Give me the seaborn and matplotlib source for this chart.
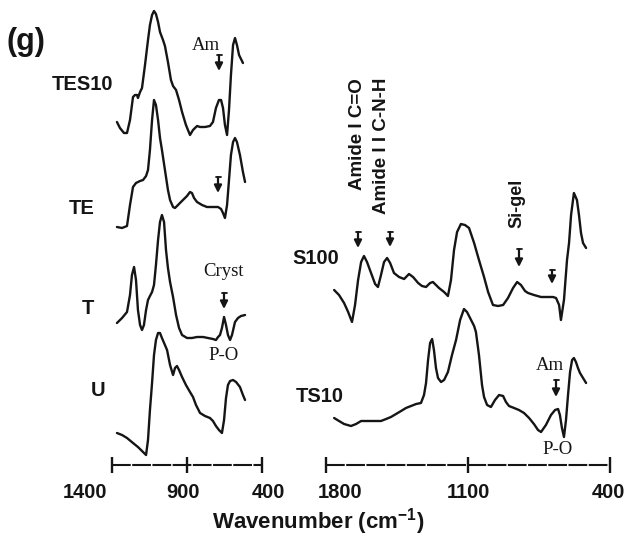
import matplotlib
matplotlib.use("Agg")
import matplotlib.pyplot as plt
from matplotlib.lines import Line2D
import numpy as np
import pandas as pd
import seaborn as sns

# ---------------- data (wavenumber in cm-1, intensity in arbitrary units) ----------------
tes10_wn = [1367, 1347, 1320, 1300, 1280, 1260, 1247, 1233, 1227, 1213, 1200, 1180, 1160, 1147,
            1133, 1120, 1107, 1093, 1080, 1060, 1047, 1027, 1007, 993, 973, 953, 933, 907, 880,
            860, 833, 813, 780, 747, 727, 707, 687, 673, 660, 647, 633, 620, 607, 593, 580, 567,
            553, 527]
tes10_ab = [13, 7, 2, 2, 15, 38, 40, 40, 37, 43, 47, 70, 95, 110, 120, 124, 121, 113, 103, 95,
            89, 73, 55, 49, 45, 35, 23, 10, 0, 5, 9, 8, 8, 9, 13, 27, 35, 35, 27, 10, 0, 25, 60,
            90, 97, 90, 80, 72]

te_wn = [1367, 1333, 1300, 1280, 1260, 1240, 1213, 1193, 1173, 1160, 1147, 1133, 1120, 1107,
         1093, 1080, 1067, 1047, 1027, 1013, 993, 980, 960, 947, 927, 900, 880, 867, 853, 833,
         800, 767, 733, 693, 673, 660, 647, 633, 620, 607, 593, 580, 567, 547, 527, 513]
te_ab = [1, 0, 2, 23, 41, 45, 47, 48, 52, 58, 78, 108, 128, 123, 108, 90, 78, 58, 38, 28, 21, 20,
         23, 25, 28, 32, 36, 35, 30, 26, 23, 21, 21, 21, 19, 15, 10, 23, 48, 73, 86, 90, 86, 73,
         56, 46]

t_wn = [1367, 1333, 1300, 1280, 1267, 1253, 1240, 1227, 1213, 1200, 1187, 1173, 1160, 1147,
        1133, 1120, 1107, 1093, 1080, 1067, 1053, 1040, 1027, 1013, 993, 973, 953, 933, 900,
        867, 833, 793, 760, 727, 707, 693, 680, 667, 653, 640, 627, 613, 600, 580, 560, 540, 513]
t_ab = [17, 22, 28, 45, 65, 73, 60, 30, 15, 10, 15, 30, 40, 44, 48, 55, 75, 100, 118, 125, 118,
        90, 72, 58, 43, 25, 12, 5, 2, 2, 3, 3, 2, 1, 0, 3, 5, 12, 23, 15, 5, 0, 5, 18, 22, 24, 25]

u_wn = [1367, 1333, 1300, 1260, 1227, 1200, 1173, 1160, 1147, 1133, 1120, 1107, 1093, 1080,
        1067, 1047, 1033, 1013, 993, 980, 967, 953, 933, 907, 880, 860, 840, 813, 780, 747, 727,
        707, 687, 667, 653, 640, 627, 613, 593, 573, 547, 527, 513]
u_ab = [22, 20, 17, 12, 8, 4, 0, 15, 45, 72, 100, 115, 122, 122, 117, 110, 105, 90, 80, 87, 89,
        85, 78, 70, 63, 58, 50, 42, 39, 37, 34, 29, 25, 22, 35, 57, 70, 74, 75, 73, 68, 60, 55]

s100_wn = [1760, 1736, 1711, 1691, 1672, 1657, 1642, 1627, 1613, 1598, 1578, 1558, 1544, 1529,
           1514, 1499, 1484, 1465, 1440, 1415, 1391, 1371, 1346, 1327, 1307, 1287, 1273, 1258,
           1243, 1218, 1199, 1184, 1169, 1154, 1135, 1115, 1095, 1080, 1070, 1046, 1021, 1001,
           977, 952, 927, 903, 878, 858, 839, 819, 804, 775, 740, 711, 681, 666, 651, 642, 627,
           612, 602, 592, 578, 563, 553, 543, 533, 518]
s100_ab = [32, 27, 19, 10, 0, 17, 42, 60, 66, 60, 49, 38, 35, 47, 60, 64, 59, 49, 45, 43, 48, 45,
           39, 36, 35, 39, 40, 37, 34, 30, 26, 42, 72, 90, 98, 97, 94, 85, 79, 62, 45, 30, 17, 16,
           17, 24, 34, 40, 37, 31, 29, 27, 25, 25, 25, 24, 17, 2, 22, 62, 79, 107, 129, 122, 107,
           89, 79, 74]

ts10_wn = [1760, 1736, 1711, 1677, 1652, 1627, 1603, 1578, 1553, 1529, 1504, 1480, 1455, 1430,
           1406, 1381, 1356, 1332, 1317, 1307, 1297, 1287, 1277, 1268, 1258, 1248, 1233, 1218,
           1199, 1179, 1159, 1139, 1120, 1105, 1085, 1070, 1061, 1046, 1031, 1021, 1006, 987,
           967, 947, 927, 913, 898, 873, 849, 824, 799, 775, 755, 740, 716, 691, 671, 656, 647,
           637, 627, 617, 607, 597, 587, 578, 568, 558, 548, 533, 518]
ts10_ab = [19, 16, 13, 11, 13, 16, 16, 16, 16, 16, 18, 20, 23, 26, 29, 31, 33, 34, 42, 54, 77, 94,
           98, 87, 69, 59, 55, 57, 65, 82, 97, 117, 128, 125, 117, 111, 105, 82, 52, 40, 32, 30,
           37, 42, 41, 35, 31, 29, 27, 24, 19, 13, 7, 5, 12, 22, 27, 28, 22, 9, 0, 17, 42, 65,
           77, 79, 75, 69, 64, 59, 54]

left_names = ["TES10", "TE", "T", "U"]
right_names = ["S100", "TS10"]
left_ticks = [1400, 900, 400]
right_ticks = [1800, 1100, 400]

# ---------------- style ----------------
sns.set_theme(style="white")
plt.rcParams["font.family"] = ["Liberation Sans", "DejaVu Sans"]
plt.rcParams["mathtext.fontset"] = "custom"
plt.rcParams["mathtext.rm"] = "Liberation Sans:bold"
plt.rcParams["mathtext.bf"] = "Liberation Sans:bold"
INK = "#151515"
W, H = 631, 537

fig = plt.figure(figsize=(W / 100, H / 100), dpi=100)
fig.patch.set_facecolor("white")
axL = fig.add_axes([100 / W, 0, 180 / W, 1])
axR = fig.add_axes([309.8 / W, 0, 320.5 / W, 1])
for ax in (axL, axR):
    ax.set_ylim(0, H)
    ax.set_axis_off()
axL.set_xlim(1480, 280)
axR.set_xlim(1880, 300)

# vertical offsets for stacking (same units as intensity)
left_series = [(tes10_wn, tes10_ab, 402), (te_wn, te_ab, 309), (t_wn, t_ab, 197), (u_wn, u_ab, 82)]
right_series = [(s100_wn, s100_ab, 215), (ts10_wn, ts10_ab, 100)]

for ax, series, names in ((axL, left_series, left_names), (axR, right_series, right_names)):
    for (wn, ab, off), nm in zip(series, names):
        df = pd.DataFrame({"wn": wn, "y": np.asarray(ab) + off})
        sns.lineplot(data=df, x="wn", y="y", sort=False, estimator=None, ax=ax,
                     color=INK, lw=1.7)
    ax.set_xlim(ax.get_xlim())

# scale bars
BAR_Y = H - 465
for ax, ticks in ((axL, left_ticks), (axR, right_ticks)):
    ax.plot([ticks[0], ticks[-1]], [BAR_Y, BAR_Y], color=INK, lw=1.5, ls=(0, (9, 0.7)))
    ax.plot(ticks, [BAR_Y] * len(ticks), ls="none", marker="|", ms=12, mew=1.7, color=INK)

left_lab_dx = [-27, -4, 6]
right_lab_dx = [14, 0, -2]
for ax, ticks, dxs in ((axL, left_ticks, left_lab_dx), (axR, right_ticks, right_lab_dx)):
    for t, dx in zip(ticks, dxs):
        ax.annotate(str(t), xy=(t, BAR_Y), xytext=(dx, -28), textcoords="offset pixels",
                    ha="center", va="center", fontsize=14.5, fontweight="bold", color=INK)


def ftext(x, y, s, **kw):
    fig.text(x / W, 1 - y / H, s, ha="center", va="center", color=INK, **kw)


def farrow(x, y0, y1):
    fig.add_artist(Line2D([(x - 2.5) / W, (x + 2.5) / W], [1 - y0 / H] * 2,
                          transform=fig.transFigure, color=INK, lw=1.3))
    axL.annotate("", xy=(x / W, 1 - y1 / H), xytext=(x / W, 1 - y0 / H),
                 xycoords="figure fraction", textcoords="figure fraction",
                 arrowprops=dict(arrowstyle="-|>", color=INK, lw=1.6, mutation_scale=11,
                                 shrinkA=0, shrinkB=0), annotation_clip=False)


bold = dict(fontweight="bold")
ftext(26, 42, "(g)", fontsize=22, **bold)
ftext(82, 84, "TES10", fontsize=14.5, **bold)
ftext(82, 208, "TE", fontsize=14.5, **bold)
ftext(88, 308, "T", fontsize=14.5, **bold)
ftext(98, 390, "U", fontsize=14.5, **bold)
ftext(316, 258, "S100", fontsize=14.5, **bold)
ftext(320, 397, "TS10", fontsize=14.5, **bold)

serif = dict(family=["Liberation Serif", "DejaVu Serif"], fontsize=13.5)
ftext(206, 45, "Am", **serif)
ftext(223, 272, "Cryst", **serif)
ftext(224, 356, "P-O", **serif)
ftext(550, 365, "Am", **serif)
ftext(558, 450, "P-O", **serif)

ftext(357, 134, "Amide I C=O", fontsize=13.5, rotation=90, **bold)
ftext(382, 146, "Amide I I C-N-H", fontsize=13.5, rotation=90, **bold)
ftext(517, 203, "Si-gel", fontsize=13, rotation=90, **bold)

farrow(219, 55, 71)
farrow(218, 177, 193)
farrow(224, 293, 309)
farrow(358, 232, 248)
farrow(390, 232, 247)
farrow(519, 249, 267)
farrow(552, 270, 284)
farrow(556, 380, 397)

ftext(318, 522, r"Wavenumber (cm$^{-1}$)", fontsize=16, **bold)

fig.savefig("out.png", dpi=100, facecolor="white")
